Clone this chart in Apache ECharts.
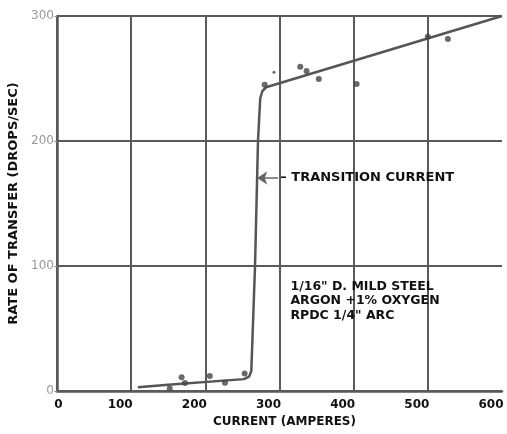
<!DOCTYPE html>
<html>
<head>
<meta charset="utf-8">
<script src="https://cdn.jsdelivr.net/npm/echarts@6/dist/echarts.min.js"></script>
<style>html,body{margin:0;padding:0;background:#fff}#c{width:507px;height:434px}</style>
</head>
<body>
<div id="c"></div>
<script>
// Fitted curve (current A, drops/s)
const curveX = [109, 150, 252, 259, 262, 267, 271, 274, 277, 282, 600];
const curveY = [3, 5, 9.5, 11.5, 16, 100, 200, 234, 240, 243, 300];
// Measured points
const pointsX = [152, 168, 172.5, 206, 226.5, 253, 280, 328, 336.5, 353, 404, 500, 527];
const pointsY = [2, 11, 6.4, 12, 6.6, 14, 245, 259.5, 256, 249.6, 245.6, 283.4, 281.6];
const faintX = [292.5];
const faintY = [255];
// Axis ticks
const xTicks = [0, 100, 200, 300, 400, 500, 600];
const yTicks = [0, 100, 200, 300];
// Annotations
const transitionLabel = '– TRANSITION CURRENT';
const transitionArrow = [[298, 170.4], [270, 170.4]];
const transitionTextAt = [301, 170.4];
const conditionsText = ['1/16" D. MILD STEEL', 'ARGON +1% OXYGEN', 'RPDC 1/4" ARC'];
const conditionsAt = [308, 72];

const zip = (a, b) => a.map((v, i) => [v, b[i]]);
const FONT = 'DejaVu Sans, Verdana, sans-serif';
const GRID = '#5a5a5a';

const chart = echarts.init(document.getElementById('c'), null, {renderer: 'canvas'});
chart.setOption({
  animation: false,
  backgroundColor: '#fff',
  grid: {left: 57, right: 5, top: 16, bottom: 43, containLabel: false, outerBoundsMode: 'none'},
  xAxis: {
    type: 'value', min: xTicks[0], max: xTicks[xTicks.length - 1], interval: 100,
    name: 'CURRENT (AMPERES)', nameLocation: 'middle', nameGap: 24,
    nameTextStyle: {fontFamily: FONT, fontWeight: 'bold', fontSize: 12, color: '#111', padding: [0, 0, 0, 10]},
    axisLine: {show: true, lineStyle: {color: GRID, width: 2.5}},
    axisTick: {show: false},
    axisLabel: {
      fontFamily: FONT, fontWeight: 'bold', fontSize: 12, color: '#111', margin: 8,
      formatter: v => (v === 0 ? '{z|0}' : '{n|' + v + '}'),
      rich: {
        z: {fontFamily: FONT, fontWeight: 'bold', fontSize: 12, color: '#111', padding: [0, 0, 0, 3]},
        n: {fontFamily: FONT, fontWeight: 'bold', fontSize: 12, color: '#111', padding: [0, 22, 0, 0]}
      }
    },
    splitLine: {show: true, lineStyle: {color: [GRID, GRID, GRID, GRID, GRID, GRID, 'rgba(0,0,0,0)'], width: 2}}
  },
  yAxis: {
    type: 'value', min: yTicks[0], max: yTicks[yTicks.length - 1], interval: 100,
    name: 'RATE OF TRANSFER (DROPS/SEC)', nameLocation: 'middle', nameGap: 32, nameRotate: 90,
    nameTextStyle: {fontFamily: FONT, fontWeight: 'bold', fontSize: 13, color: '#111'},
    axisLine: {show: true, lineStyle: {color: GRID, width: 2.5}},
    axisTick: {show: true, length: 3, lineStyle: {color: '#999', width: 1}},
    axisLabel: {fontFamily: FONT, fontSize: 12, color: '#999', margin: 3},
    splitLine: {show: true, lineStyle: {color: GRID, width: 2}}
  },
  series: [
    {
      type: 'line', data: zip(curveX, curveY), showSymbol: false, smooth: false,
      lineStyle: {color: '#555', width: 2.5}, z: 3,
      markLine: {
        silent: true, symbol: ['none', 'arrow'], symbolSize: 10,
        lineStyle: {color: '#666', width: 1.5, type: 'solid'},
        itemStyle: {color: '#666'},
        label: {show: false},
        z: 6,
        data: [[{coord: transitionArrow[0]}, {coord: transitionArrow[1]}]]
      },
      markPoint: {
        silent: true, symbol: 'circle', symbolSize: 0,
        data: [
          {coord: transitionTextAt, label: {show: true, position: 'right', distance: 0, formatter: transitionLabel,
            fontFamily: FONT, fontWeight: 'bold', fontSize: 13, color: '#111'}},
          {coord: conditionsAt, label: {show: true, position: 'right', distance: 5, formatter: conditionsText.join('\n'),
            fontFamily: FONT, fontWeight: 'bold', fontSize: 12.5, lineHeight: 14.6, color: '#111'}}
        ]
      }
    },
    {
      type: 'scatter', data: zip(pointsX, pointsY), symbol: 'circle', symbolSize: 6,
      itemStyle: {color: '#444'}, z: 4
    },
    {
      type: 'scatter', data: zip(faintX, faintY), symbol: 'circle', symbolSize: 3,
      itemStyle: {color: '#444'}, z: 4
    }
  ]
});
</script>
</body>
</html>
